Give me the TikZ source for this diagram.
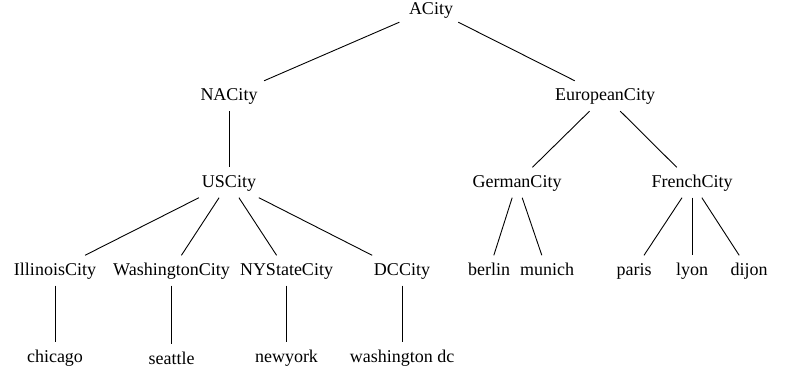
\documentclass[tikz,border=0pt]{standalone}
\usepackage{fontspec}
\setmainfont{Liberation Serif}
\begin{document}
\begin{tikzpicture}[x=1pt,y=-1pt,
  city/.style={rectangle, inner xsep=10pt, inner ysep=6pt, text height=14pt, text depth=4pt, font=\fontsize{18}{20}\selectfont},
  edge/.style={draw=black, line width=0.9pt}]
\useasboundingbox (0,0) rectangle (786,371);
\node[city, text depth=1pt] (A) at (431,8.5) {ACity};
\node[city] (NA) at (229,96) {NACity};
\node[city] (EU) at (605,96) {EuropeanCity};
\node[city] (US) at (229,182.5) {USCity};
\node[city] (GE) at (517,182.5) {GermanCity};
\node[city] (FR) at (692,182.5) {FrenchCity};
\node[city] (IL) at (55,270.5) {IllinoisCity};
\node[city] (WA) at (171.5,270.5) {WashingtonCity};
\node[city] (NY) at (286.5,270.5) {NYStateCity};
\node[city] (DC) at (402,270.5) {DCCity};
\node[city] (BE) at (489,270.5) {berlin};
\node[city] (MU) at (547,270.5) {munich};
\node[city] (PA) at (634,270.5) {paris};
\node[city] (LY) at (692,270.5) {lyon};
\node[city] (DI) at (749,270.5) {dijon};
\node[city] (CH) at (55,357) {chicago};
\node[city] (SE) at (171.5,359.5) {seattle};
\node[city] (NW) at (286.5,357) {newyork};
\node[city] (WD) at (402,357) {washington dc};
\draw[edge] (A) -- (NA);
\draw[edge] (A) -- (EU);
\draw[edge] (NA) -- (US);
\draw[edge] (EU) -- (GE);
\draw[edge] (EU) -- (FR);
\draw[edge] (US) -- (IL);
\draw[edge] (US) -- (WA);
\draw[edge] (US) -- (NY);
\draw[edge] (US) -- (DC);
\draw[edge] (GE) -- (BE);
\draw[edge] (GE) -- (MU);
\draw[edge] (FR) -- (PA);
\draw[edge] (FR) -- (LY);
\draw[edge] (FR) -- (DI);
\draw[edge] (IL) -- (CH);
\draw[edge] (WA) -- (SE);
\draw[edge] (NY) -- (NW);
\draw[edge] (DC) -- (WD);
\end{tikzpicture}
\end{document}
